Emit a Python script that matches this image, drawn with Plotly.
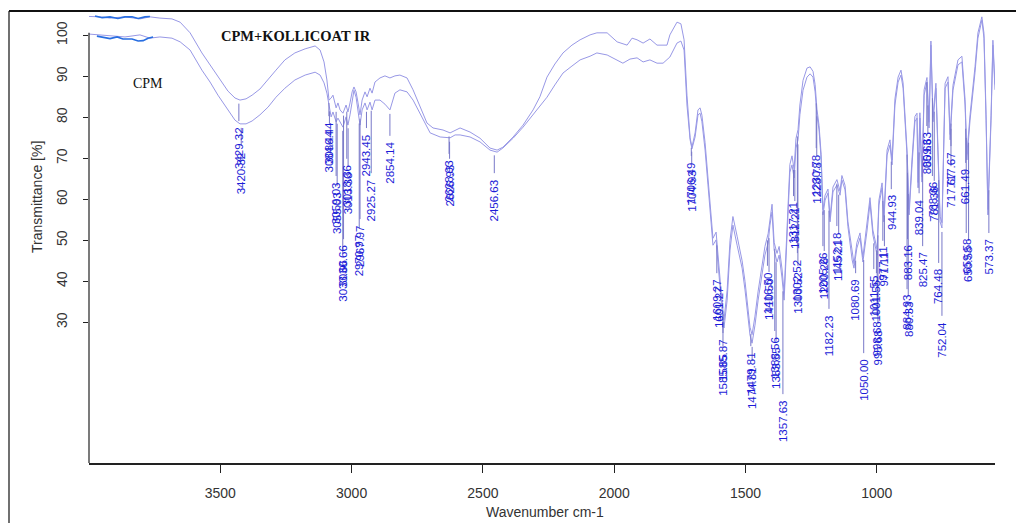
import numpy as np
import plotly.graph_objects as go

# ---------------- data ----------------
# CPM (lower spectrum)
cpm_wn = [4000, 3958, 3920, 3863, 3806, 3768, 3730, 3684, 3653, 3615, 3570, 3539, 3509, 3471, 3444, 3425,
          3402, 3379, 3349, 3318, 3288, 3254, 3216, 3177, 3139, 3120, 3105, 3094, 3086, 3078, 3071, 3059,
          3052, 3044, 3033, 3021, 3014, 3006, 2998, 2991, 2983, 2976, 2968, 2960, 2949, 2941, 2930, 2922,
          2911, 2892, 2873, 2854, 2835, 2816, 2789, 2766, 2728, 2701, 2663, 2625, 2606, 2587, 2549, 2511,
          2473, 2446, 2424, 2385, 2347, 2309, 2283, 2256, 2226, 2195, 2161, 2130, 2092, 2066, 2027, 1997,
          1967, 1940, 1913, 1890, 1864, 1837, 1814, 1788, 1761, 1746, 1734, 1723, 1711, 1704, 1692, 1681,
          1673, 1666, 1654, 1643, 1631, 1624, 1612, 1605, 1593, 1582, 1570, 1559, 1548, 1532, 1513, 1502,
          1491, 1483, 1475, 1464, 1452, 1437, 1426, 1414, 1407, 1399, 1391, 1380, 1372, 1361, 1353, 1346,
          1338, 1331, 1323, 1315, 1308, 1300, 1293, 1281, 1266, 1254, 1243, 1235, 1228, 1220, 1212, 1205,
          1197, 1186, 1178, 1167, 1152, 1140, 1133, 1121, 1110, 1094, 1087, 1076, 1064, 1053, 1037, 1026,
          1015, 999, 992, 980, 973, 961, 950, 942, 931, 919, 908, 900, 885, 877, 866, 855,
          847, 843, 836, 828, 820, 809, 801, 794, 786, 775, 767, 759, 752, 740, 729, 721,
          710, 691, 676, 664, 657, 645, 626, 615, 600, 592, 584, 577, 565, 558, 550]
cpm_t = [100.3, 100.1, 99.8, 99.6, 100.1, 99.3, 99.6, 99.3, 98.4, 96.4, 91.5, 88.6, 85.4, 81.8, 79.3, 78.4,
         78.4, 79.1, 80.6, 82.5, 84.9, 87.1, 89.1, 90.3, 91.0, 90.3, 88.4, 85.9, 83.0, 80.1, 81.3, 78.9,
         79.8, 78.9, 77.6, 80.1, 78.1, 80.6, 84.2, 86.6, 84.9, 81.8, 78.1, 81.8, 83.5, 81.8, 83.7, 81.8,
         84.2, 84.2, 83.2, 81.8, 85.9, 86.7, 86.2, 84.2, 79.3, 76.2, 75.2, 75.0, 75.7, 75.7, 75.2, 74.0,
         72.0, 71.5, 72.5, 74.9, 77.6, 80.6, 82.5, 84.9, 87.9, 90.8, 92.5, 94.0, 94.9, 95.7, 95.2, 94.2,
         93.2, 94.2, 94.5, 93.5, 94.0, 93.2, 93.2, 94.7, 98.1, 98.6, 96.4, 83.0, 74.5, 72.3, 75.2, 80.6,
         81.0, 78.9, 72.0, 63.5, 53.7, 48.8, 50.1, 44.0, 35.4, 28.6, 35.4, 47.6, 53.7, 48.8, 43.2, 37.9,
         31.0, 26.9, 24.9, 29.3, 35.4, 41.5, 46.4, 49.3, 53.7, 56.9, 47.6, 44.7, 46.4, 40.8, 35.4, 45.2,
         56.2, 66.6, 68.4, 65.2, 72.5, 74.5, 80.6, 86.6, 89.8, 90.6, 89.8, 86.2, 80.6, 76.9, 69.6, 56.2,
         59.8, 61.5, 54.5, 61.8, 63.5, 61.0, 64.7, 62.3, 53.3, 45.2, 43.2, 48.1, 50.6, 44.7, 52.5, 59.1,
         51.3, 46.4, 58.6, 62.8, 54.5, 70.8, 73.2, 68.4, 83.0, 88.6, 90.3, 87.1, 70.8, 56.2, 68.4, 78.9,
         79.8, 62.8, 79.8, 64.2, 85.4, 88.6, 77.4, 97.6, 78.9, 87.1, 70.8, 54.5, 53.0, 87.1, 88.6, 74.5,
         86.6, 92.8, 93.5, 83.0, 69.6, 79.3, 91.0, 99.3, 103.7, 99.3, 79.3, 56.2, 79.3, 97.6, 86.7]

# CPM + KOLLICOAT IR (upper spectrum)
mix_wn = [4000, 3958, 3920, 3863, 3806, 3768, 3730, 3684, 3653, 3615, 3570, 3539, 3509, 3471, 3444, 3425,
          3402, 3379, 3349, 3318, 3288, 3254, 3216, 3177, 3139, 3120, 3105, 3094, 3086, 3078, 3071, 3059,
          3052, 3044, 3033, 3021, 3014, 3006, 2998, 2991, 2983, 2976, 2968, 2960, 2949, 2941, 2930, 2922,
          2911, 2892, 2873, 2854, 2835, 2816, 2789, 2766, 2739, 2713, 2690, 2652, 2625, 2606, 2587, 2549,
          2511, 2473, 2446, 2424, 2385, 2347, 2309, 2283, 2256, 2226, 2195, 2161, 2130, 2092, 2066, 2027,
          1989, 1951, 1932, 1913, 1890, 1864, 1837, 1799, 1788, 1761, 1746, 1734, 1723, 1711, 1704, 1692,
          1681, 1673, 1666, 1654, 1643, 1631, 1624, 1612, 1605, 1593, 1582, 1570, 1559, 1548, 1532, 1513,
          1502, 1491, 1483, 1475, 1464, 1452, 1437, 1426, 1414, 1407, 1399, 1391, 1380, 1372, 1361, 1353,
          1346, 1338, 1331, 1323, 1315, 1308, 1300, 1293, 1281, 1266, 1254, 1243, 1235, 1228, 1220, 1212,
          1205, 1197, 1186, 1178, 1167, 1152, 1140, 1133, 1121, 1110, 1094, 1087, 1076, 1064, 1053, 1037,
          1026, 1015, 999, 992, 980, 973, 961, 950, 942, 931, 919, 908, 900, 885, 877, 866,
          855, 847, 843, 836, 828, 820, 809, 801, 794, 786, 775, 767, 759, 752, 740, 729,
          721, 710, 691, 676, 664, 657, 645, 626, 615, 600, 592, 584, 577, 565, 558, 550]
mix_t = [104.6, 104.5, 104.2, 104.5, 104.0, 104.5, 104.2, 104.0, 103.2, 100.6, 95.7, 92.8, 89.8, 86.4, 84.7, 84.2,
         84.5, 85.4, 86.9, 89.1, 91.5, 94.0, 95.7, 96.7, 97.4, 96.4, 93.5, 89.1, 84.2, 84.7, 85.4, 82.3,
         83.5, 81.8, 81.0, 83.0, 81.3, 83.5, 86.2, 87.4, 86.2, 83.7, 80.6, 84.2, 86.2, 85.0, 87.1, 85.9,
         88.6, 89.6, 90.1, 89.6, 90.1, 90.3, 89.6, 86.7, 82.5, 78.6, 77.4, 76.9, 76.2, 76.9, 77.4, 76.4,
         74.9, 72.5, 72.0, 72.7, 75.2, 78.1, 81.8, 85.0, 89.8, 93.0, 95.7, 97.6, 98.9, 100.1, 100.6, 100.6,
         98.4, 97.6, 99.3, 98.9, 98.1, 99.1, 97.6, 97.6, 100.1, 103.2, 102.8, 98.9, 85.4, 75.0, 72.7, 76.2,
         81.8, 82.3, 80.5, 73.8, 65.5, 55.9, 50.5, 52.0, 46.2, 37.5, 30.5, 37.8, 50.0, 55.8, 51.0, 45.0,
         40.0, 33.2, 28.8, 27.0, 31.5, 37.6, 43.8, 48.5, 51.6, 55.2, 58.8, 49.5, 46.8, 48.5, 43.0, 37.2,
         47.5, 58.5, 68.5, 70.6, 67.3, 74.8, 77.0, 83.0, 89.0, 92.0, 92.3, 91.2, 88.0, 82.0, 78.0, 71.0,
         57.5, 61.0, 62.5, 55.6, 63.0, 64.8, 62.0, 65.8, 63.4, 54.5, 46.5, 44.3, 49.4, 51.8, 45.9, 53.8,
         60.4, 52.5, 47.8, 59.8, 64.0, 55.7, 72.0, 74.5, 69.6, 84.5, 89.8, 91.5, 88.4, 72.0, 57.6, 69.8,
         80.2, 81.0, 64.1, 81.1, 65.5, 86.7, 89.7, 78.8, 98.6, 80.2, 88.3, 72.1, 55.8, 54.3, 88.3, 89.9,
         75.8, 87.8, 94.0, 94.9, 84.4, 71.0, 80.6, 92.4, 100.6, 104.5, 100.5, 80.6, 57.5, 80.5, 98.8, 88.0]

# noisy bright-blue segments near 3900-3750 cm-1
cpm_noise_wn = [3970, 3947, 3920, 3893, 3871, 3836, 3813, 3794, 3775, 3756]
cpm_noise_t = [99.8, 99.6, 99.2, 99.6, 99.1, 99.1, 98.6, 98.7, 99.3, 99.6]
mix_noise_wn = [3977, 3950, 3920, 3890, 3863, 3836, 3813, 3787, 3768]
mix_noise_t = [104.7, 104.3, 104.5, 104.1, 104.5, 104.5, 104.1, 104.5, 104.6]

# peak labels: text, spectrum ("u" = CPM+KOLLICOAT IR, "l" = CPM)
peak_text = ["3429.32", "3420.32", "3086.44", "3084.44", "3059.03", "3055.03", "3030.66", "3033.66",
             "3018.36", "3013.36", "2967.97", "2970.97", "2943.45", "2925.27", "2854.14", "2628.93",
             "2626.93", "2456.63", "1706.49", "1704.93", "1609.27", "1601.27", "1585.87", "1585.85",
             "1479.81", "1474.81", "1416.50", "1410.50", "1388.56", "1383.55", "1357.63", "1317.21",
             "1312.21", "1302.52", "1300.52", "1230.78", "1228.78", "1205.26", "1200.26", "1182.23",
             "1152.18", "1145.21", "1080.69", "1050.00", "1001.55", "1011.55", "998.68", "995.68",
             "977.11", "971.11", "944.93", "883.16", "884.93", "880.33", "839.04", "825.47",
             "809.63", "805.63", "788.36", "781.36", "764.48", "752.04", "717.67", "717.67",
             "661.49", "659.58", "650.58", "573.37"]
peak_curve = ["u", "l", "u", "l", "u", "l", "u", "l", "u", "l", "u", "l", "l", "l", "l", "u",
              "l", "l", "u", "l", "u", "l", "u", "l", "u", "l", "u", "l", "u", "l", "l", "u",
              "l", "u", "l", "u", "l", "u", "l", "l", "u", "l", "l", "l", "u", "l", "u", "l",
              "u", "l", "l", "l", "u", "l", "l", "l", "u", "l", "u", "l", "l", "l", "u", "l",
              "l", "u", "l", "l"]
# transmittance level of the upper end of each label (layout placement)
label_top = [78.1, 72.0, 79.3, 77.4, 64.7, 62.3, 49.3, 45.7, 68.9, 67.1, 54.2, 52.0, 76.4, 65.4, 74.5, 70.1,
             68.9, 65.4, 69.6, 67.6, 41.0, 39.3, 26.4, 22.8, 23.2, 19.6, 42.8, 41.3, 26.9, 24.5, 11.5, 59.8,
             58.6, 45.9, 42.8, 71.5, 69.6, 47.6, 46.4, 32.3, 52.5, 50.6, 41.0, 21.5, 41.0, 42.0, 30.6, 28.6,
             48.9, 47.6, 61.5, 49.3, 37.1, 35.4, 60.5, 47.6, 76.9, 75.2, 64.7, 63.5, 43.5, 30.6, 72.0, 67.1,
             67.9, 50.8, 48.9, 50.8]

x_ticks = [3500, 3000, 2500, 2000, 1500, 1000]
y_ticks = [30, 40, 50, 60, 70, 80, 90, 100]

# ---------------- figure ----------------
W, H = 1016, 523
L, R, T, B = 89, 21, 13, 60
PW, PH = W - L - R, H - T - B
YMIN, YMAX = -4.32, 105.44
XMAX, XMIN = 4000, 550
px2t = (YMAX - YMIN) / PH  # transmittance units per pixel

line_col = "rgb(152,152,230)"
label_col = "rgb(28,28,215)"

fig = go.Figure()
fig.add_trace(go.Scatter(x=cpm_wn, y=cpm_t, mode="lines", line=dict(color=line_col, width=1),
                         name="CPM", showlegend=False))
fig.add_trace(go.Scatter(x=mix_wn, y=mix_t, mode="lines", line=dict(color=line_col, width=1),
                         name="CPM+KOLLICOAT IR", showlegend=False))
fig.add_trace(go.Scatter(x=cpm_noise_wn, y=cpm_noise_t, mode="lines",
                         line=dict(color="rgb(40,110,225)", width=1.6), showlegend=False))
fig.add_trace(go.Scatter(x=mix_noise_wn, y=mix_noise_t, mode="lines",
                         line=dict(color="rgb(40,110,225)", width=1.6), showlegend=False))

curves = {
    "l": (np.array(cpm_wn[::-1], float), np.array(cpm_t[::-1], float)),
    "u": (np.array(mix_wn[::-1], float), np.array(mix_t[::-1], float)),
}

shapes = []
annotations = []
for txt, cv, top in zip(peak_text, peak_curve, label_top):
    wn = float(txt)
    xs, ys = curves[cv]
    tc = float(np.interp(wn, xs, ys))
    y0 = tc - 4 * px2t
    y1 = top + 4 * px2t
    if y0 - y1 > 2 * px2t:
        shapes.append(dict(type="line", xref="x", yref="y", x0=wn, x1=wn, y0=y0, y1=y1,
                           line=dict(color="rgb(120,120,200)", width=1)))
    annotations.append(dict(x=wn, y=top, xref="x", yref="y", text=txt, textangle=-90,
                            showarrow=False, xanchor="center", yanchor="top",
                            font=dict(family="Liberation Sans, Arial", size=11.5, color=label_col)))

# y axis line (starts just above 100)
shapes.append(dict(type="line", xref="paper", yref="y", x0=0, x1=0, y0=YMIN, y1=100.6,
                   line=dict(color="#222", width=1.2)))
# outer frame of the figure (top and left)
fx0 = (9 - L) / PW
fy_top = (H - B - 11) / PH
fy_bot = (H - B - H) / PH
shapes.append(dict(type="line", xref="paper", yref="paper", x0=fx0, x1=(W - L) / PW + 0.01,
                   y0=fy_top, y1=fy_top, line=dict(color="#111", width=2)))
shapes.append(dict(type="line", xref="paper", yref="paper", x0=fx0, x1=fx0,
                   y0=fy_top, y1=fy_bot - 0.02, line=dict(color="#111", width=1.2)))

# texts
annotations.append(dict(x=(296 - L) / PW, y=(H - B - 36) / PH, xref="paper", yref="paper",
                        text="<b>CPM+KOLLICOAT IR</b>", showarrow=False, xanchor="center", yanchor="middle",
                        font=dict(family="Liberation Serif, Times New Roman", size=14.5, color="#111")))
annotations.append(dict(x=(148 - L) / PW, y=(H - B - 83) / PH, xref="paper", yref="paper",
                        text="CPM", showarrow=False, xanchor="center", yanchor="middle",
                        font=dict(family="Liberation Serif, Times New Roman", size=14, color="#111")))
annotations.append(dict(x=(37 - L) / PW, y=(H - B - 197) / PH, xref="paper", yref="paper",
                        text="Transmittance [%]", textangle=-90, showarrow=False,
                        xanchor="center", yanchor="middle",
                        font=dict(family="Liberation Sans, Arial", size=14, color="#333")))
annotations.append(dict(x=(545 - L) / PW, y=(H - B - 512) / PH, xref="paper", yref="paper",
                        text="Wavenumber cm-1", showarrow=False, xanchor="center", yanchor="middle",
                        font=dict(family="Liberation Sans, Arial", size=14, color="#333")))

fig.update_layout(
    width=W, height=H,
    margin=dict(l=L, r=R, t=T, b=B, pad=0),
    paper_bgcolor="white", plot_bgcolor="white",
    shapes=shapes, annotations=annotations,
    xaxis=dict(range=[XMAX, XMIN], tickvals=x_ticks, ticktext=[str(v) for v in x_ticks],
               showgrid=False, zeroline=False, showline=True, linecolor="#222", linewidth=1.5,
               ticks="outside", ticklen=8, tickcolor="#222", ticklabelstandoff=8,
               tickfont=dict(family="Liberation Sans, Arial", size=14, color="#333")),
    yaxis=dict(range=[YMIN, YMAX], tickvals=y_ticks, ticktext=[str(v) for v in y_ticks],
               showgrid=False, zeroline=False, showline=False,
               ticks="outside", ticklen=5, tickcolor="#222", tickangle=-90, ticklabelstandoff=10,
               tickfont=dict(family="Liberation Sans, Arial", size=14, color="#333")),
)

fig.write_html("out.html")
